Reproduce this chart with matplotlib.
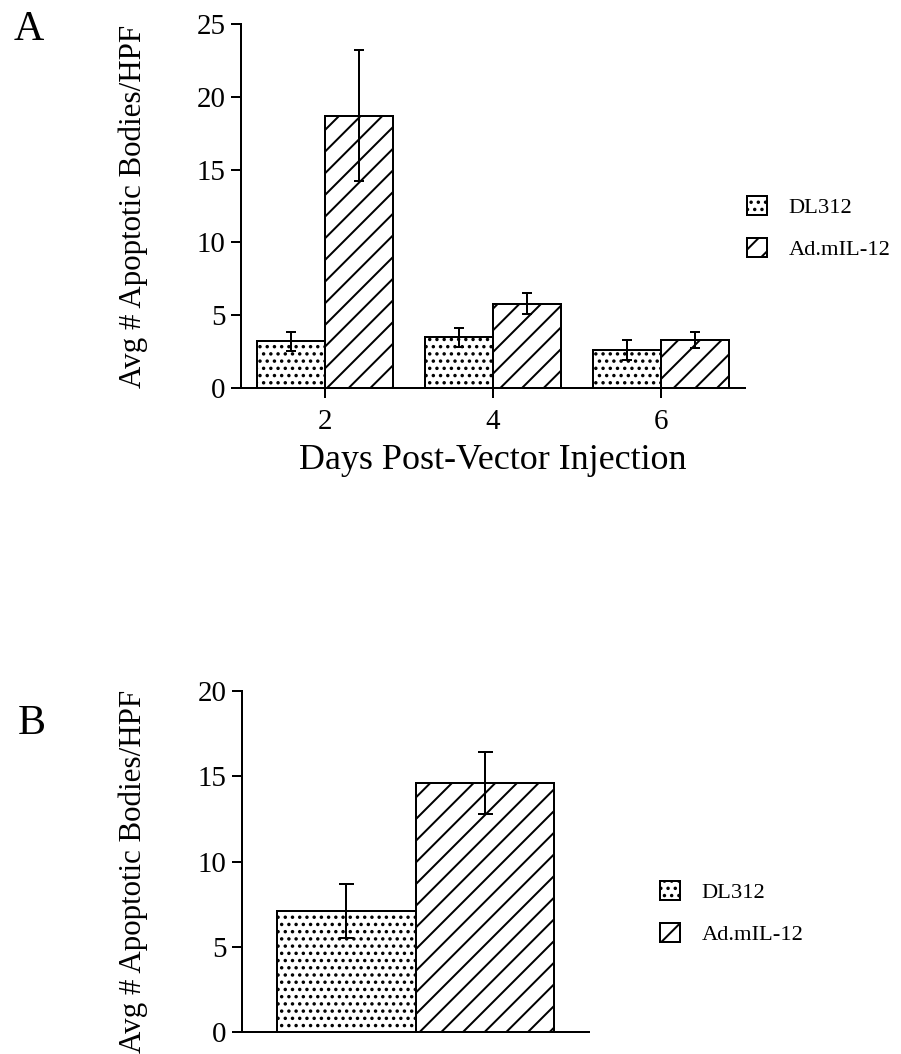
import matplotlib
matplotlib.use("Agg")
import matplotlib.pyplot as plt
import numpy as np

DPI = 130
PX = 72.0 / DPI  # points per pixel

plt.rcParams['font.family'] = ['Liberation Serif', 'DejaVu Serif']
plt.rcParams['hatch.linewidth'] = 2.0 * PX
plt.rcParams['hatch.color'] = 'black'

# panel A data
days = ['2', '4', '6']
dl312_a = [3.2, 3.5, 2.6]
dl312_a_err = [0.65, 0.65, 0.7]
admil12_a = [18.7, 5.8, 3.3]
admil12_a_err = [4.5, 0.75, 0.55]

# panel B data
groups_b = ['DL312', 'Ad.mIL-12']
values_b = [7.1, 14.6]
errors_b = [1.6, 1.8]

series_names = ['DL312', 'Ad.mIL-12']
hatches = ['...', '//']

lw = 2.0 * PX
tick_fs = 29 * PX
ylab_fs = 31 * PX
xlab_fs = 36 * PX
leg_fs = 22.5 * PX
letter_fs = 42 * PX

fig = plt.figure(figsize=(901 / DPI, 1054 / DPI), dpi=DPI)


def style_axes(ax):
    for s in ['top', 'right']:
        ax.spines[s].set_visible(False)
    for s in ['left', 'bottom']:
        ax.spines[s].set_linewidth(lw)
    ax.tick_params(axis='both', width=lw, length=10 * PX,
                   labelsize=tick_fs, direction='out', pad=3)
    ax.tick_params(axis='x', pad=6)


# ---------- panel A ----------
axA = fig.add_axes([241 / 901, 1 - 388 / 1054, 504 / 901, 364 / 1054])
x = np.arange(len(days))
w = 0.405
barsA = []
for i, (vals, errs) in enumerate([(dl312_a, dl312_a_err), (admil12_a, admil12_a_err)]):
    pos = x + (i - 0.5) * w
    b = axA.bar(pos, vals, width=w, color='white', edgecolor='black',
                linewidth=lw, hatch=hatches[i], label=series_names[i], zorder=2)
    axA.errorbar(pos, vals, yerr=errs, fmt='none', ecolor='black',
                 elinewidth=lw, capsize=5 * PX, capthick=lw, zorder=3)
    barsA.append(b)

axA.set_xlim(-0.5, 2.5)
axA.set_ylim(0, 25)
axA.set_yticks([0, 5, 10, 15, 20, 25])
axA.set_xticks(x)
axA.set_xticklabels(days)
style_axes(axA)
axA.set_ylabel('Avg # Apoptotic Bodies/HPF', fontsize=ylab_fs)
axA.yaxis.set_label_coords((148 - 241) / 504, 0.5)
axA.set_xlabel('Days Post-Vector Injection', fontsize=xlab_fs)
axA.xaxis.set_label_coords(0.5, (388 - 444) / 364)

fig.legend(handles=barsA, labels=series_names, loc='upper left',
           bbox_to_anchor=(747 / 901, 1 - 196 / 1054), frameon=False,
           fontsize=leg_fs, handlelength=0.9, handleheight=0.9,
           handletextpad=0.95, labelspacing=0.9, borderpad=0, borderaxespad=0)

fig.text(29 / 901, 1 - 30 / 1054, 'A', fontsize=letter_fs, ha='center', va='center')

# ---------- panel B ----------
axB = fig.add_axes([242 / 901, 1 - 1032 / 1054, 347 / 901, 341 / 1054])
xb = np.arange(len(groups_b))
barsB = []
for i in range(len(groups_b)):
    b = axB.bar(xb[i], values_b[i], width=1.0, color='white', edgecolor='black',
                linewidth=lw, hatch=hatches[i], label=groups_b[i], zorder=2)
    barsB.append(b)
axB.errorbar(xb, values_b, yerr=errors_b, fmt='none', ecolor='black',
             elinewidth=lw, capsize=7.5 * PX, capthick=lw, zorder=3)
axB.set_xlim(-0.753, 1.753)
axB.set_ylim(0, 20)
axB.set_yticks([0, 5, 10, 15, 20])
axB.set_xticks([])
style_axes(axB)
axB.set_ylabel('Avg # Apoptotic Bodies/HPF', fontsize=ylab_fs)
axB.yaxis.set_label_coords((148 - 242) / 347, 0.47)

fig.legend(handles=barsB, labels=groups_b, loc='upper left',
           bbox_to_anchor=(660 / 901, 1 - 881 / 1054), frameon=False,
           fontsize=leg_fs, handlelength=0.9, handleheight=0.9,
           handletextpad=0.95, labelspacing=0.9, borderpad=0, borderaxespad=0)

fig.text(32 / 901, 1 - 724 / 1054, 'B', fontsize=letter_fs, ha='center', va='center')

fig.savefig('out.png', dpi=DPI)
